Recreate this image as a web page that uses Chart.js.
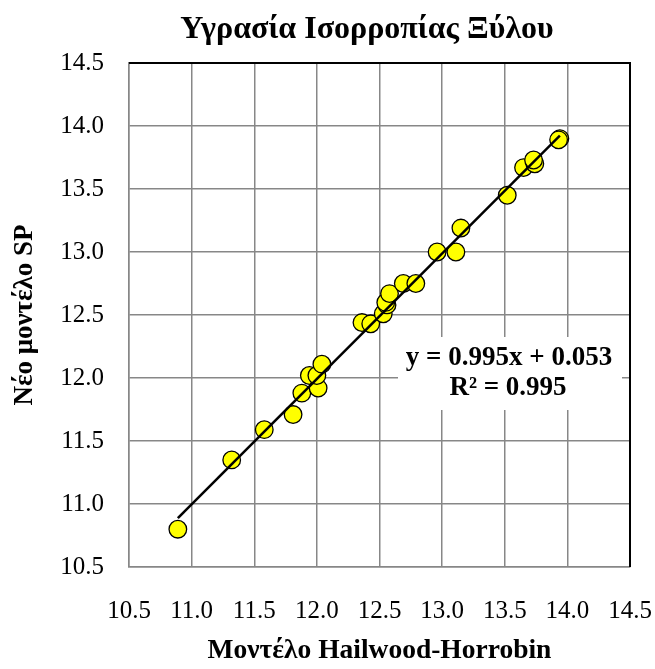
<!DOCTYPE html>
<html>
<head>
<meta charset="utf-8">
<script src="https://cdn.jsdelivr.net/npm/chart.js@4.4.1/dist/chart.umd.min.js"></script>
<style>
  html, body { margin: 0; padding: 0; background: #fff; }
  #wrap { width: 655px; height: 669px; }
</style>
</head>
<body>
<div id="wrap"><canvas id="chart" width="655" height="669"></canvas></div>
<script>
// values
const xHailwood = [10.89, 11.32, 11.58, 11.81, 11.88, 11.94, 12.01, 12.00, 12.04, 12.36, 12.43,
                   12.53, 12.56, 12.55, 12.58, 12.69, 12.79, 12.96, 13.11, 13.15, 13.52, 13.65,
                   13.74, 13.73, 13.94, 13.93];
const yNewSP    = [10.80, 11.35, 11.59, 11.71, 11.88, 12.02, 11.92, 12.02, 12.11, 12.44, 12.43,
                   12.51, 12.58, 12.60, 12.67, 12.75, 12.75, 13.00, 13.00, 13.19, 13.45, 13.67,
                   13.70, 13.73, 13.90, 13.89];
const fitSlope = 0.995;
const fitIntercept = 0.053;
const rSquared = 0.995;
const axisMin = 10.5;
const axisMax = 14.5;
const tickStep = 0.5;

const points = xHailwood.map((x, i) => ({ x: x, y: yNewSP[i] }));
const xLo = Math.min(...xHailwood);
const xHi = Math.max(...xHailwood);
const trend = [xLo, xHi].map(x => ({ x: x, y: fitSlope * x + fitIntercept }));

const serif = "'Liberation Serif', 'Times New Roman', serif";
const gridGray = '#878787';

const decorPlugin = {
    id: 'decor',
    beforeDatasetsDraw(chart) {
        const { ctx, chartArea: a } = chart;
        ctx.save();
        ctx.strokeStyle = '#000';
        ctx.lineWidth = 2;
        ctx.beginPath();
        ctx.moveTo(a.left, a.top);
        ctx.lineTo(a.right, a.top);
        ctx.lineTo(a.right, a.bottom);
        ctx.stroke();
        ctx.restore();
    },
    afterDatasetsDraw(chart) {
        const { ctx, chartArea: a } = chart;
        ctx.save();
        // equation label box
        ctx.fillStyle = '#fff';
        ctx.fillRect(a.left + 269, a.top + 274, 224, 73);
        ctx.fillStyle = '#000';
        ctx.textAlign = 'center';
        ctx.textBaseline = 'middle';
        ctx.font = 'bold 27px ' + serif;
        ctx.fillText('y = ' + fitSlope.toFixed(3) + 'x + ' + fitIntercept.toFixed(3), a.left + 380, a.top + 295);
        ctx.fillText('R² = ' + rSquared.toFixed(3), a.left + 379, a.top + 325);
        ctx.restore();
    },
    afterDraw(chart) {
        const { ctx } = chart;
        ctx.save();
        ctx.fillStyle = '#000';
        ctx.textAlign = 'center';
        ctx.textBaseline = 'alphabetic';
        ctx.font = 'bold 32px ' + serif;
        ctx.fillText('Υγρασία Ισορροπίας Ξύλου', 367, 38);
        ctx.restore();
    }
};

new Chart(document.getElementById('chart').getContext('2d'), {
    type: 'scatter',
    data: {
        datasets: [
            {
                label: 'trend',
                type: 'line',
                data: trend,
                borderColor: '#000',
                borderWidth: 2.5,
                pointRadius: 0,
                fill: false,
                order: 0
            },
            {
                label: 'data',
                data: points,
                backgroundColor: '#ffff00',
                borderColor: '#000',
                borderWidth: 1.3,
                pointRadius: 8.8,
                pointHoverRadius: 8.8,
                order: 1
            }
        ]
    },
    options: {
        responsive: false,
        animation: false,
        layout: { padding: { top: 63, right: 0, left: 0, bottom: 0 } },
        plugins: {
            legend: { display: false },
            tooltip: { enabled: false },
            title: { display: false }
        },
        scales: {
            x: {
                type: 'linear',
                min: axisMin,
                max: axisMax,
                afterFit: (scale) => {
                    scale.height = 102;
                    scale.paddingLeft = 0;
                    scale.paddingRight = 25;
                },
                ticks: {
                    stepSize: tickStep,
                    padding: 29,
                    color: '#000',
                    font: { family: serif, size: 25 },
                    callback: (v) => v.toFixed(1)
                },
                grid: { color: gridGray, lineWidth: 1.5, drawTicks: false },
                border: { color: gridGray, width: 1.5 },
                title: {
                    display: true,
                    text: 'Μοντέλο Hailwood-Horrobin',
                    color: '#000',
                    font: { family: serif, size: 27.5, weight: 'bold' },
                    padding: { top: 0, bottom: 2 }
                }
            },
            y: {
                type: 'linear',
                min: axisMin,
                max: axisMax,
                afterFit: (scale) => { scale.width = 129; },
                ticks: {
                    stepSize: tickStep,
                    padding: 25,
                    color: '#000',
                    font: { family: serif, size: 25 },
                    callback: (v) => v.toFixed(1)
                },
                grid: { color: gridGray, lineWidth: 1.5, drawTicks: false },
                border: { color: gridGray, width: 1.5 },
                title: {
                    display: true,
                    text: 'Νέο μοντέλο SP',
                    color: '#000',
                    font: { family: serif, size: 27, weight: 'bold' },
                    padding: { top: 9, bottom: 0 }
                }
            }
        }
    },
    plugins: [decorPlugin]
});
</script>
</body>
</html>
